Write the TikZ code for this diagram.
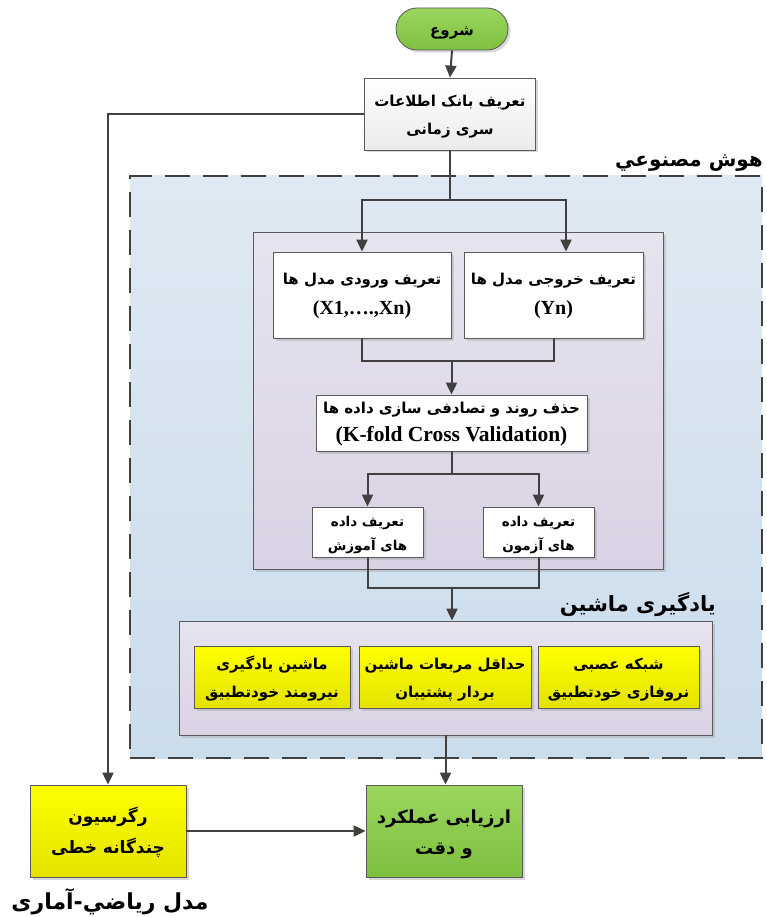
\documentclass[tikz,border=0pt]{standalone}
\usepackage{fontspec}
\newfontfamily\fa[Script=Arabic]{DejaVu Sans}
\newfontfamily\tnr{Liberation Serif}
\TeXXeTstate=1
\usetikzlibrary{arrows.meta,shadows}
\newcommand{\fl}[1]{\raisebox{-3pt}[0.75em][0.25em]{\beginR#1\endR}}
\newcommand{\flt}[1]{\beginR#1\endR}
\newcommand{\lat}[2][20pt]{{\tnr\bfseries\fontsize{#1}{28pt}\selectfont #2}}
\definecolor{lineC}{HTML}{404040}
\definecolor{borderC}{HTML}{5A5A5A}
\definecolor{regTop}{HTML}{DFE9F3}
\definecolor{regBot}{HTML}{CBDCEB}
\definecolor{purTop}{HTML}{E7E3EF}
\definecolor{purBot}{HTML}{D9D2E4}
\definecolor{yelTop}{HTML}{FFFF00}
\definecolor{yelBot}{HTML}{E3E300}
\definecolor{grnTop}{HTML}{9BD65F}
\definecolor{grnBot}{HTML}{7DC03F}
\begin{document}
\begin{tikzpicture}[x=1pt,y=-1pt,
  shade/.style={drop shadow={shadow xshift=2.5pt,shadow yshift=-2.5pt,fill=black!35,opacity=0.45}},
  basebox/.style={draw=borderC,line width=0.8pt,inner sep=2pt,align=center,
    font={\fa\bfseries\fontsize{15pt}{28pt}\selectfont},shade},
  whitebox/.style={basebox,fill=white},
  graybox/.style={basebox,top color=white,bottom color=black!8},
  yelbox/.style={basebox,top color=yelTop,bottom color=yelBot},
  grnbox/.style={basebox,top color=grnTop,bottom color=grnBot},
  purbox/.style={draw=borderC,line width=0.8pt,top color=purTop,bottom color=purBot,shade},
  region/.style={draw=lineC,line width=1.8pt,dash pattern=on 25pt off 13pt,top color=regTop,bottom color=regBot},
  title/.style={font={\fa\bfseries\fontsize{21pt}{24pt}\selectfont},inner sep=0pt},
  conn/.style={draw=lineC,line width=2pt},
  arr/.style={conn,-{Triangle[length=12pt,width=11pt]}}]
\useasboundingbox (0,0) rectangle (766,917);

% regions
\node[region,minimum width=632pt,minimum height=582pt,inner sep=0pt] (ai) at (446,467) {};
\node[title,anchor=base east,font={\fa\bfseries\fontsize{20pt}{24pt}\selectfont}] (ailab) at (763,167) {\flt{هوش مصنوعي}};
\node[purbox,minimum width=410pt,minimum height=337pt,inner sep=0pt] (p1) at (458,400.5) {};
\node[purbox,minimum width=533pt,minimum height=114pt,inner sep=0pt] (ml) at (445.5,678) {};
\node[title,anchor=base east] (mllab) at (716,611) {\flt{یادگیری ماشین}};

% nodes
\node[grnbox,rounded corners=21pt,minimum width=112pt,minimum height=42pt] (start) at (452,29) {\fl{شروع}};
\node[graybox,minimum width=171pt,minimum height=72pt] (b1) at (450,114) {\fl{تعریف بانک اطلاعات}\\\fl{سری زمانی}};
\node[whitebox,minimum width=178pt,minimum height=86pt] (in) at (362,295)
  {\fl{تعریف ورودی مدل ها}\\[5pt]\lat{(X1,….,Xn)}};
\node[whitebox,minimum width=179pt,minimum height=86pt] (out) at (553.5,295)
  {\fl{تعریف خروجی مدل ها}\\[5pt]\lat{(Yn)}};
\node[whitebox,minimum width=271pt,minimum height=56pt,inner sep=0pt] (kf) at (451.5,423)
  {\fl{حذف روند و تصادفی سازی داده ها}\\[3pt]\lat[21.5pt]{(K-fold Cross Validation)}};
\node[whitebox,minimum width=111pt,minimum height=50pt,font={\fa\bfseries\fontsize{13.5pt}{24pt}\selectfont}] (train) at (367.5,532) {\fl{تعریف داده}\\\fl{های آموزش}};
\node[whitebox,minimum width=111pt,minimum height=50pt,font={\fa\bfseries\fontsize{13.5pt}{24pt}\selectfont}] (test) at (538.5,532) {\fl{تعریف داده}\\\fl{های آزمون}};
\node[yelbox,minimum width=156pt,minimum height=62pt] (y1) at (272,677) {\fl{ماشین یادگیری}\\\fl{نیرومند خودتطبیق}};
\node[yelbox,minimum width=172pt,minimum height=62pt] (y2) at (445,677) {\fl{حداقل مربعات ماشین}\\\fl{بردار پشتیبان}};
\node[yelbox,minimum width=161pt,minimum height=62pt] (y3) at (618.5,677) {\fl{شبکه عصبی}\\\fl{نروفازی خودتطبیق}};
\node[yelbox,minimum width=156pt,minimum height=92pt,font={\fa\bfseries\fontsize{17pt}{31pt}\selectfont}] (reg) at (108,831) {\fl{رگرسیون}\\\fl{چندگانه خطی}};
\node[grnbox,minimum width=156pt,minimum height=92pt,font={\fa\bfseries\fontsize{18pt}{31pt}\selectfont}] (ev) at (444,831) {\fl{ارزیابی عملکرد}\\\fl{و دقت}};
\node[title,anchor=base,font={\fa\bfseries\fontsize{22pt}{24pt}\selectfont}] (statlab) at (110,909) {\flt{مدل ریاضي-آماری}};

% connectors
\draw[arr] (start.south) -- (b1.north);
\draw[arr] (b1.west) -| (reg.north);
\draw[conn] (b1.south) -- (450,200) coordinate (j1);
\draw[arr] (j1) -| (in.north);
\draw[arr] (j1) -| ([xshift=12.5pt]out.north);
\coordinate (m1) at (451.5,361);
\draw[conn] (in.south) |- (m1);
\draw[conn] (out.south) |- (m1);
\draw[arr] (m1) -- (kf.north);
\draw[conn] (kf.south) -- (451.5,474) coordinate (j2);
\draw[arr] (j2) -| (train.north);
\draw[arr] (j2) -| (test.north);
\coordinate (m2) at (452,588);
\draw[conn] (train.south) |- (m2);
\draw[conn] (test.south) |- (m2);
\draw[arr] (m2) -- (m2 |- ml.north);
\draw[arr] (ml.south) -- (ml.south |- ev.north);
\draw[arr] (reg.east) -- (ev.west);
\end{tikzpicture}
\end{document}
